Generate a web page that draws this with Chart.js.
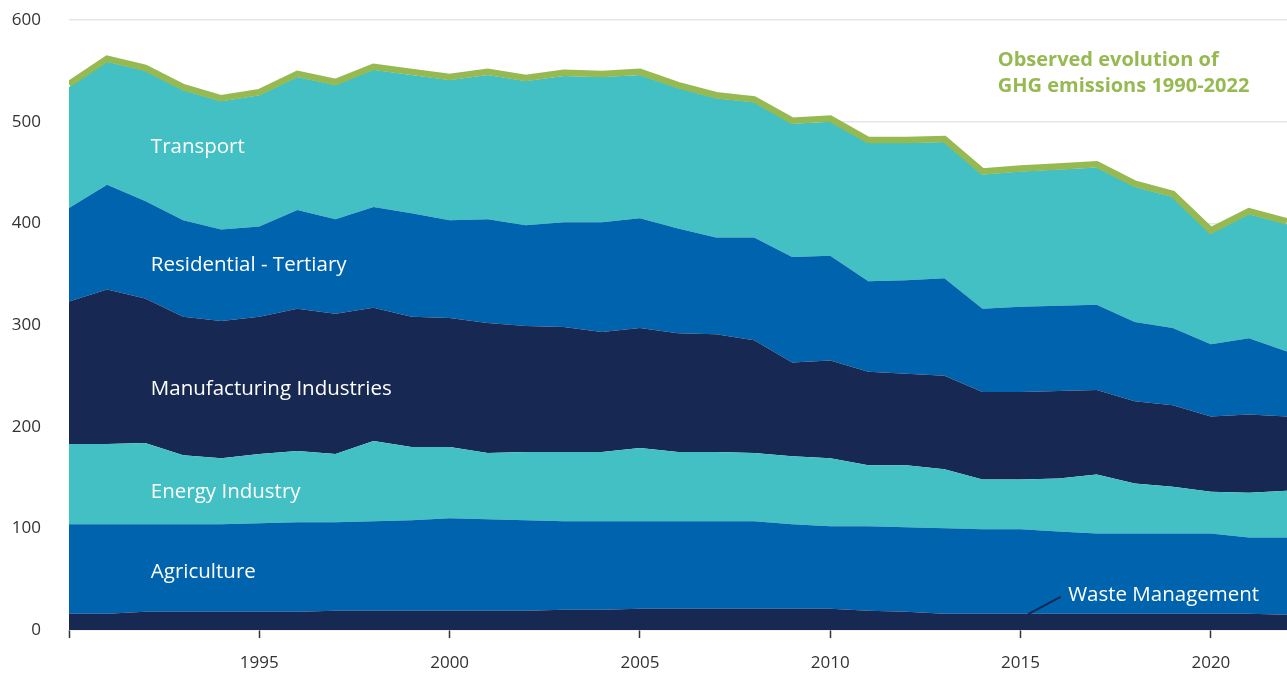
<!DOCTYPE html>
<html lang="en">
<head>
    <meta charset="UTF-8">
    <title>GHG emissions by sector 1990-2022</title>
    <script src="https://cdn.jsdelivr.net/npm/chart.js"></script>
    <style>
        body {
            margin: 0;
            background: #ffffff;
            font-family: "Open Sans", Arial, sans-serif;
        }
        #chart {
            display: block;
        }
    </style>
</head>
<body>
    <canvas id="chart" width="1287" height="673"></canvas>

    <script>
        // Data (Mt CO2e)
        const years = [1990, 1991, 1992, 1993, 1994, 1995, 1996, 1997, 1998, 1999,
                       2000, 2001, 2002, 2003, 2004, 2005, 2006, 2007, 2008, 2009,
                       2010, 2011, 2012, 2013, 2014, 2015, 2016, 2017, 2018, 2019,
                       2020, 2021, 2022];

        const waste = [16, 16, 18, 18, 18, 18, 18, 19, 19, 19,
                       19, 19, 19, 20, 20, 21, 21, 21, 21, 21,
                       21, 19, 18, 16, 16, 16, 16, 16, 16, 16,
                       16, 16, 15];
        const agriculture = [88, 88, 86, 86, 86, 87, 88, 87, 88, 89,
                             91, 90, 89, 87, 87, 86, 86, 86, 86, 83,
                             81, 83, 83, 84, 83, 83, 81, 79, 79, 79,
                             79, 75, 76];
        const energy = [79, 79, 80, 68, 65, 68, 70, 67, 79, 72,
                        70, 65, 67, 68, 68, 72, 68, 68, 67, 67,
                        67, 60, 61, 58, 49, 49, 52, 58, 49, 46,
                        41, 44, 46];
        const manufacturing = [140, 152, 142, 136, 135, 135, 140, 138, 131, 128,
                               127, 128, 124, 123, 118, 118, 117, 116, 111, 92,
                               96, 92, 90, 92, 86, 86, 86, 83, 81, 80,
                               74, 77, 73];
        const residential = [92, 103, 96, 95, 90, 89, 97, 93, 99, 102,
                             96, 102, 99, 103, 108, 108, 103, 95, 101, 104,
                             103, 89, 92, 96, 82, 84, 84, 84, 78, 76,
                             71, 75, 64];
        const transport = [119, 121, 128, 128, 126, 129, 131, 132, 135, 136,
                           138, 142, 142, 144, 143, 141, 138, 137, 133, 131,
                           132, 136, 135, 134, 132, 133, 134, 135, 133, 129,
                           109, 122, 125];
        const observed = [537, 562, 553, 534, 523, 529, 547, 539, 554, 549,
                          544, 549, 543, 548, 547, 549, 536, 526, 522, 501,
                          503, 482, 482, 483, 451, 454, 456, 458, 439, 429,
                          393, 412, 402];

        const xTicks = [1990, 1995, 2000, 2005, 2010, 2015, 2020];
        const yTicks = [0, 100, 200, 300, 400, 500, 600];

        const TEAL = '#42c0c4';
        const BLUE = '#0063ad';
        const NAVY = '#172952';
        const GREEN = '#97b952';
        const FONT = '"Open Sans", Arial, sans-serif';

        function points(values) {
            return years.map((y, i) => ({ x: y, y: values[i] }));
        }

        function area(label, values, color, fill) {
            return {
                label: label,
                data: points(values),
                backgroundColor: color,
                borderColor: color,
                borderWidth: 0,
                pointRadius: 0,
                tension: 0,
                fill: fill,
                stack: 'sectors'
            };
        }

        // Sector labels drawn inside the areas
        const areaLabels = {
            id: 'areaLabels',
            afterDatasetsDraw(chart) {
                const ctx = chart.ctx;
                const xs = chart.scales.x;
                const ys = chart.scales.y;
                ctx.save();
                ctx.fillStyle = '#ffffff';
                ctx.font = '20.5px ' + FONT;
                ctx.textBaseline = 'middle';
                ctx.textAlign = 'left';
                const lx = xs.getPixelForValue(1992.15);
                ctx.fillText('Transport', lx, ys.getPixelForValue(475));
                ctx.fillText('Residential - Tertiary', lx, ys.getPixelForValue(359));
                ctx.fillText('Manufacturing Industries', lx, ys.getPixelForValue(237));
                ctx.fillText('Energy Industry', lx, ys.getPixelForValue(136));
                ctx.fillText('Agriculture', lx, ys.getPixelForValue(57));

                // Waste management label with leader line
                ctx.fillText('Waste Management', xs.getPixelForValue(2016.25), ys.getPixelForValue(34));
                ctx.strokeStyle = NAVY;
                ctx.lineWidth = 2;
                ctx.beginPath();
                ctx.moveTo(xs.getPixelForValue(2016.05), ys.getPixelForValue(32.5));
                ctx.lineTo(xs.getPixelForValue(2015.2), ys.getPixelForValue(15.5));
                ctx.stroke();

                // Observed evolution note
                ctx.fillStyle = GREEN;
                ctx.font = 'bold 20px ' + FONT;
                const ox = xs.getPixelForValue(2014.4);
                ctx.fillText('Observed evolution of', ox, ys.getPixelForValue(560));
                ctx.fillText('GHG emissions 1990-2022', ox, ys.getPixelForValue(534.5));
                ctx.restore();
            }
        };

        const ctx = document.getElementById('chart').getContext('2d');
        const chart = new Chart(ctx, {
            type: 'line',
            data: {
                datasets: [
                    {
                        label: 'Observed evolution of GHG emissions 1990-2022',
                        data: points(observed),
                        borderColor: GREEN,
                        borderWidth: 6.5,
                        pointRadius: 0,
                        tension: 0,
                        fill: false,
                        stack: 'observed'
                    },
                    area('Waste Management', waste, NAVY, 'origin'),
                    area('Agriculture', agriculture, BLUE, '-1'),
                    area('Energy Industry', energy, TEAL, '-1'),
                    area('Manufacturing Industries', manufacturing, NAVY, '-1'),
                    area('Residential - Tertiary', residential, BLUE, '-1'),
                    area('Transport', transport, TEAL, '-1')
                ]
            },
            options: {
                responsive: false,
                animation: false,
                layout: {
                    padding: { top: 20, right: 0, left: 0, bottom: 0 }
                },
                plugins: {
                    legend: { display: false },
                    tooltip: { enabled: false }
                },
                scales: {
                    x: {
                        type: 'linear',
                        min: 1990,
                        max: 2022,
                        afterBuildTicks: (scale) => {
                            scale.ticks = xTicks.map(v => ({ value: v }));
                        },
                        afterFit: (scale) => { scale.height = 43; },
                        border: { display: false },
                        grid: {
                            drawOnChartArea: false,
                            drawTicks: true,
                            tickLength: 8,
                            color: '#333333',
                            tickWidth: 1.5
                        },
                        ticks: {
                            padding: 15,
                            color: '#333333',
                            maxRotation: 0,
                            font: { family: FONT, size: 17 },
                            callback: (v) => (v === 1990 ? '' : String(v))
                        }
                    },
                    y: {
                        stacked: true,
                        min: 0,
                        max: 600,
                        afterBuildTicks: (scale) => {
                            scale.ticks = yTicks.map(v => ({ value: v }));
                        },
                        afterFit: (scale) => {
                            scale.width = 69;
                            scale.paddingTop = 0;
                            scale.paddingBottom = 0;
                        },
                        border: { display: false },
                        grid: {
                            drawTicks: false,
                            color: '#e6e6e6',
                            lineWidth: 1.5
                        },
                        ticks: {
                            padding: 28,
                            color: '#333333',
                            font: { family: FONT, size: 17 }
                        }
                    }
                }
            },
            plugins: [areaLabels]
        });
    </script>
</body>
</html>
